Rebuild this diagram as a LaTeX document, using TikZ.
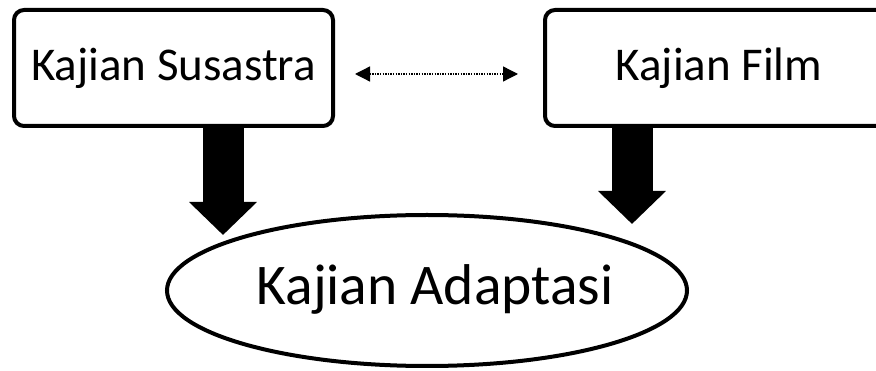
\documentclass[tikz,border=0pt]{standalone}
\usepackage{fontspec}
\setmainfont{Carlito}
\usetikzlibrary{arrows.meta,shapes.geometric}

\tikzset{
  studybox/.style={draw=black, line width=4pt, rounded corners=10pt, fill=white,
    minimum height=116pt, inner sep=0pt, font=\fontsize{47}{50}\selectfont,
    text height=26pt, text depth=0pt},
  mainoval/.style={ellipse, draw=black, line width=4pt, fill=white, inner sep=0pt,
    minimum width=520pt, minimum height=151pt},
  ovaltext/.style={inner sep=0pt, font=\fontsize{57.5}{60}\selectfont},
  fatarrow/.style={line width=41pt, line cap=butt,
    -{Triangle[width=66pt, length=33pt]}},
  linkarrow/.style={line width=1.3pt, dash pattern=on 1.3pt off 1.3pt,
    {Triangle[width=15pt, length=15pt]}-{Triangle[width=15pt, length=15pt]}}
}

\begin{document}
\begin{tikzpicture}[x=1pt, y=-1pt]
  \useasboundingbox (0,0) rectangle (876,371);
  \clip (0,0) rectangle (876,371);

  % the two source disciplines
  \node[studybox, minimum width=319pt] (lit) at (173.5,68) {Kajian Susastra};
  \node[studybox, minimum width=348pt] (film) at (719,68) {Kajian Film};

  % the combined field
  \node[mainoval] (adapt) at (427,290.5) {};
  \node[ovaltext, anchor=base] (adapttext) at (435,305) {Kajian Adaptasi};

  % ends of the free connectors
  \coordinate (litTip) at (223,235);
  \coordinate (filmTip) at (632,224);
  \coordinate (linkL) at (355,74);
  \coordinate (linkR) at (518,74);

  % both disciplines feed into adaptation studies
  \draw[fatarrow] (lit.south -| litTip) ++(0,-2) -- (litTip);
  \draw[fatarrow] (film.south -| filmTip) ++(0,-2) -- (filmTip);

  % dialogue between literature and film
  \draw[linkarrow] (linkL) -- (linkR);
\end{tikzpicture}
\end{document}
